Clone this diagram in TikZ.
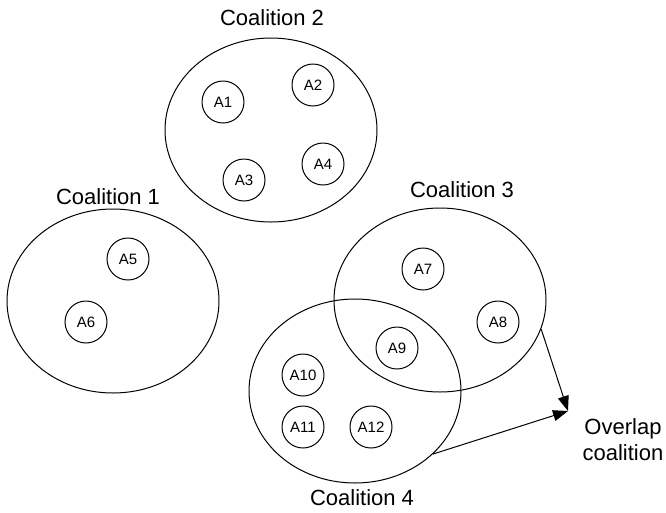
\documentclass[tikz,border=0pt]{standalone}
\usepackage{fontspec}
\setmainfont{Liberation Sans}
\usetikzlibrary{shapes.geometric,arrows.meta}
\begin{document}
\begin{tikzpicture}[x=1pt,y=-1pt,
  coalition/.style={draw,ellipse,line width=1pt,inner sep=0pt,
    minimum width=212pt,minimum height=184pt},
  agent/.style={draw,circle,line width=1pt,inner sep=0pt,minimum size=42pt,
    font=\fontsize{15}{18}\selectfont},
  title/.style={font=\fontsize{22}{26}\selectfont,inner sep=0pt},
  link/.style={line width=1pt,-{Triangle[length=15pt,width=11pt]}}]
\useasboundingbox (0,0) rectangle (666,512);

% coalitions
\node[coalition] (c2) at (271,130) {};
\node[coalition] (c1) at (113,301) {};
\node[coalition] (c3) at (440,300) {};
\node[coalition] (c4) at (355,391) {};

% coalition labels
\node[title] (t2) at (272,18) {Coalition 2};
\node[title] (t1) at (108,197) {Coalition 1};
\node[title] (t3) at (462,190) {Coalition 3};
\node[title] (t4) at (362,498) {Coalition 4};

% agents
\node[agent] (a1) at (223,102) {A1};
\node[agent] (a2) at (313,85) {A2};
\node[agent] (a3) at (244,180) {A3};
\node[agent] (a4) at (323,164) {A4};
\node[agent] (a5) at (128,259) {A5};
\node[agent] (a6) at (86,322) {A6};
\node[agent] (a7) at (423,269) {A7};
\node[agent] (a8) at (498,322) {A8};
\node[agent] (a9) at (397,348) {A9};
\node[agent] (a10) at (303,375) {A10};
\node[agent] (a11) at (303,427) {A11};
\node[agent] (a12) at (371,427) {A12};

% overlap annotation
\node[title,align=center] (ov) at (623,440) {Overlap\\coalition};
\coordinate (tip) at (568,411);
\draw[link] (c3.-16) -- (tip);
\draw[link] (c4.-39) -- (tip);
\end{tikzpicture}
\end{document}
